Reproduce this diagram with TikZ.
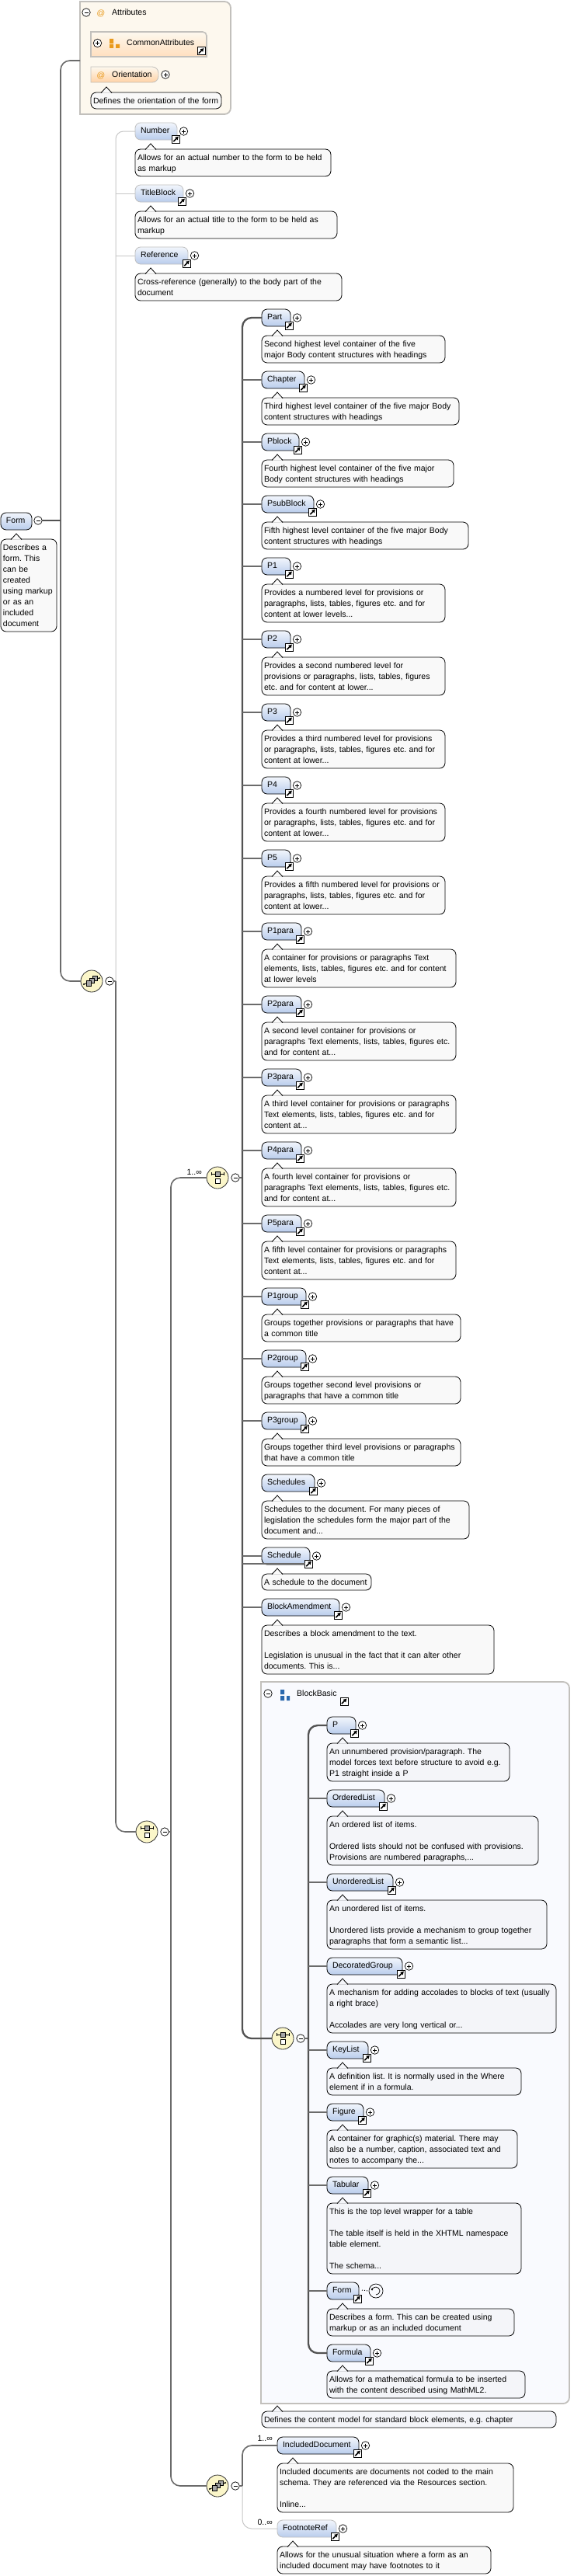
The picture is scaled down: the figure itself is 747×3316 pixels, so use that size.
\documentclass[tikz,border=0pt]{standalone}
\usepackage{fontspec}
\setmainfont{Liberation Sans}
\usetikzlibrary{arrows.meta,calc}

\definecolor{elemtop}{HTML}{F2F6FC}
\definecolor{elembot}{HTML}{B9CCEC}
\definecolor{cmtplain}{HTML}{F9F9F9}
\definecolor{cmtblue}{HTML}{F4F5F9}
\definecolor{attrfill}{HTML}{FDF8EE}
\definecolor{blockfill}{HTML}{F9FAFE}
\definecolor{boxline}{HTML}{C2C0BC}
\definecolor{iconorange}{HTML}{E99A1C}
\definecolor{iconblue}{HTML}{2A68AE}
\definecolor{seqfill}{HTML}{FBF6C9}
\colorlet{cmtfill}{cmtplain}

\tikzset{
  x=1pt,y=-1pt,
  txt/.style={font=\fontsize{10.5}{14}\selectfont\frenchspacing},
  elembox/.style={txt,anchor=north west,outer sep=0pt,inner xsep=7pt,inner ysep=0pt,
    rounded corners=7pt,draw=black,line width=.8pt,top color=elemtop,bottom color=elembot,
    minimum height=22pt,text height=8pt,text depth=3pt,align=left},
  opt/.style={draw=black!25},
  cmt/.style={txt,anchor=north west,outer sep=0pt,inner xsep=3pt,inner ysep=3.5pt,
    rounded corners=7pt,draw=black,line width=.8pt,fill=cmtfill,text height=11pt,align=left},
  shortcut/.style={draw=black,fill=white,line width=.8pt,minimum size=10pt,inner sep=0pt,outer sep=0pt,
    path picture={\draw[line width=1.5pt,-{Latex[length=4.5pt,width=5.5pt]}]
      ($(path picture bounding box.center)+(-3.2,3.2)$) -- ($(path picture bounding box.center)+(3.6,-3.6)$);}},
  plusbtn/.style={circle,draw=black,fill=white,line width=.7pt,minimum size=10.5pt,inner sep=0pt,outer sep=0pt,
    path picture={\draw[line width=.7pt] ($(path picture bounding box.center)+(-2.5,0)$) -- ++(5,0)
      ($(path picture bounding box.center)+(0,-2.5)$) -- ++(0,5);}},
  minusbtn/.style={circle,draw=black,fill=white,line width=.7pt,minimum size=10.5pt,inner sep=0pt,outer sep=0pt,
    path picture={\draw[line width=.8pt] ($(path picture bounding box.center)+(-2.5,0)$) -- ++(5,0);}},
  seq/.style={circle,draw=black!80,fill=seqfill,line width=.8pt,minimum size=28pt,inner sep=0pt,outer sep=0pt},
  conn/.style={draw=black!58,line width=1.6pt},
  busline/.style={draw=black!68,line width=2.3pt},
  optline/.style={draw=black!22,line width=1pt},
  mult/.style={txt,anchor=east,inner sep=0pt},
  plain/.style={txt,anchor=west,inner sep=0pt},
  pics/choicepic/.style={code={
    \draw[line width=.7pt] (-8,-5) -- (8,-5) (-8,-7) -- (-8,-3) (8,-7) -- (8,-3);
    \draw[fill=black!35,line width=.7pt] (-3,-8) rectangle (3,-2);
    \draw[fill=white,line width=.7pt] (-3,1) rectangle (3,7);}},
  pics/allpic/.style={code={
    \draw[line width=.8pt] (-10,4) -- (10,-4);
    \fill (-10,4) circle (1.2) (10,-4) circle (1.2);
    \draw[fill=black!35,line width=.7pt] (1,-7) rectangle (7,-1);
    \draw[fill=black!35,line width=.7pt] (-3,-4) rectangle (3,2);
    \draw[fill=black!35,line width=.7pt] (-7,-1) rectangle (-1,6);}}
}

% comment box under an element, with its small peak
\newcommand{\peak}[1]{%
  \path[draw=black,line width=.8pt,fill=cmtfill] ([shift={(13,.6)}]#1.north west) -- ([shift={(20,-7)}]#1.north west)
    -- ([shift={(27,.6)}]#1.north west);}
% [style]{name}{label}{left}{top}{right}{comment right}{comment lines}{comment}
\newcommand{\elembody}[9][]{%
  \pgfmathtruncatemacro\elemw{#6-#4-14}%
  \pgfmathtruncatemacro\cmtw{#7-#4-6}%
  \pgfmathtruncatemacro\cmtd{14*#8-11}%
  \node[elembox,#1,text width=\elemw pt] (#2) at (#4,#5) {\mbox{#3}};
  \node[shortcut] (#2s) at ($(#2.south east)+(-1.5,-1)$) {};
  \node[cmt,text width=\cmtw pt,text depth=\cmtd pt] (#2c) at ($(#2.south west)+(0,12)$) {#9};
  \peak{#2c}}
\newcommand{\elem}[9][]{%
  \elembody[#1]{#2}{#3}{#4}{#5}{#6}{#7}{#8}{#9}
  \node[plusbtn] (#2p) at ($(#2.east)+(8.5,0)$) {};}

\begin{document}
\begin{tikzpicture}
  \useasboundingbox (0,0) rectangle (747,3316);
  \fill[white] (0,0) rectangle (747,3316);

  % Attributes box
  \draw[draw=boxline,line width=1.8pt,fill=attrfill] (103,2) {[rounded corners=8pt] -- (297,2) -- (297,147)} -- (103,147) -- cycle;
  \node[minusbtn] (attrMinus) at (111,16) {};
  \node[txt,text=iconorange,inner sep=0pt] (attrAt) at (130,17) {@};
  \node[plain] (attrText) at (144,16) {Attributes};
  \shade[left color=attrfill,middle color=black!25,right color=attrfill] (107,29.3) rectangle (250,30.7);
  \draw[draw=boxline,line width=1.6pt,top color=attrfill,bottom color=orange!25] (117,41) {[rounded corners=5pt] -- (266,41)} -- (266,73) -- (117,73) -- cycle;
  \node[plusbtn] (commonPlus) at (125.5,55.5) {};
  \fill[iconorange] (141,50) rectangle (146,56) (141,57) rectangle (146,62) (149,57) rectangle (154,62);
  \node[plain] (commonText) at (163,55) {CommonAttributes};
  \node[shortcut] (commonLink) at (259,65.5) {};
  \draw[draw=boxline,line width=.8pt,top color=attrfill,bottom color=orange!35] (117,86) {[rounded corners=8pt] -- (204,86) -- (204,106)} -- (117,106) -- cycle;
  \node[txt,text=iconorange,inner sep=0pt] (orientAt) at (130,97) {@};
  \node[plain] (orientText) at (144,96) {Orientation};
  \node[plusbtn] (orientPlus) at (213,96) {};
  \node[cmt,text width=162pt,text depth=3pt] (orientc) at (117,119) {\mbox{Defines the orientation of the form}};
  \peak{orientc}
  \coordinate (attrBox) at (103,78);

  % BlockBasic box
  \draw[draw=boxline,line width=1.8pt,fill=blockfill] (336,2165) {[rounded corners=8pt] -- (733,2165) -- (733,3094)} -- (336,3094) -- cycle;
  \node[minusbtn] (blockMinus) at (345,2180) {};
  \fill[iconblue] (361,2175) rectangle (366,2181) (361,2183) rectangle (366,2189) (369,2183) rectangle (373,2189);
  \node[plain] (blockText) at (382,2180) {BlockBasic};
  \node[shortcut] (blockLink) at (443,2190) {};
  \shade[left color=blockfill,middle color=black!20,right color=blockfill] (340,2198.3) rectangle (632,2199.7);

  % Root
  \node[elembox,text width=26pt] (Form) at (1,660) {Form};
  \node[minusbtn] (FormMinus) at (49,670) {};
  \node[cmt,text width=66pt,text depth=101pt] (Formc) at (1,694) {Describes a\\form. This\\can be\\created\\using markup\\or as an\\included\\document};
  \peak{Formc}

  % Optional children
  \elem[opt]{Number}{Number}{174}{158}{228}{426}{2}{Allows for an actual number to the form to be held\\as markup}
  \elem[opt]{TitleBlock}{TitleBlock}{174}{238}{236}{434}{2}{Allows for an actual title to the form to be held as\\markup}
  \elem[opt]{Reference}{Reference}{174}{318}{242}{440}{2}{Cross-reference (generally) to the body part of the\\document}

  % Body level
  \elem{Part}{Part}{337}{398}{374}{573}{2}{Second highest level container of the five\\major Body content structures with headings}
  \elem{Chapter}{Chapter}{337}{478}{392}{591}{2}{Third highest level container of the five major Body\\content structures with headings}
  \elem{Pblock}{Pblock}{337}{558}{385}{584}{2}{Fourth highest level container of the five major\\Body content structures with headings}
  \elem{PsubBlock}{PsubBlock}{337}{638}{404}{603}{2}{Fifth highest level container of the five major Body\\content structures with headings}
  \elem{Pone}{P1}{337}{718}{374}{573}{3}{Provides a numbered level for provisions or\\paragraphs, lists, tables, figures etc. and for\\content at lower levels...}
  \elem{Ptwo}{P2}{337}{812}{374}{573}{3}{Provides a second numbered level for\\provisions or paragraphs, lists, tables, figures\\etc. and for content at lower...}
  \elem{Pthree}{P3}{337}{906}{374}{573}{3}{Provides a third numbered level for provisions\\or paragraphs, lists, tables, figures etc. and for\\content at lower...}
  \elem{Pfour}{P4}{337}{1000}{374}{573}{3}{Provides a fourth numbered level for provisions\\or paragraphs, lists, tables, figures etc. and for\\content at lower...}
  \elem{Pfive}{P5}{337}{1094}{374}{573}{3}{Provides a fifth numbered level for provisions or\\paragraphs, lists, tables, figures etc. and for\\content at lower...}
  \elem{Ponepara}{P1para}{337}{1188}{388}{587}{3}{A container for provisions or paragraphs Text\\elements, lists, tables, figures etc. and for content\\at lower levels}
  \elem{Ptwopara}{P2para}{337}{1282}{388}{587}{3}{A second level container for provisions or\\paragraphs Text elements, lists, tables, figures etc.\\and for content at...}
  \elem{Pthreepara}{P3para}{337}{1376}{388}{587}{3}{A third level container for provisions or paragraphs\\Text elements, lists, tables, figures etc. and for\\content at...}
  \elem{Pfourpara}{P4para}{337}{1470}{388}{587}{3}{A fourth level container for provisions or\\paragraphs Text elements, lists, tables, figures etc.\\and for content at...}
  \elem{Pfivepara}{P5para}{337}{1564}{388}{587}{3}{A fifth level container for provisions or paragraphs\\Text elements, lists, tables, figures etc. and for\\content at...}
  \elem{Ponegroup}{P1group}{337}{1658}{394}{593}{2}{Groups together provisions or paragraphs that have\\a common title}
  \elem{Ptwogroup}{P2group}{337}{1738}{394}{593}{2}{Groups together second level provisions or\\paragraphs that have a common title}
  \elem{Pthreegroup}{P3group}{337}{1818}{394}{593}{2}{Groups together third level provisions or paragraphs\\that have a common title}
  \elem{Schedules}{Schedules}{337}{1898}{405}{604}{3}{Schedules to the document. For many pieces of\\legislation the schedules form the major part of the\\document and...}
  \elem{Schedule}{Schedule}{337}{1992}{399}{478}{1}{A schedule to the document}
  \elem{BlockAmendment}{BlockAmendment}{337}{2058}{437}{636}{4}{Describes a block amendment to the text.\\[14pt]Legislation is unusual in the fact that it can alter other\\documents. This is...}

  % Inside BlockBasic
  \colorlet{cmtfill}{cmtblue}
  \elem{Pplain}{P}{421}{2210}{458}{656}{3}{An unnumbered provision/paragraph. The\\model forces text before structure to avoid e.g.\\P1 straight inside a P}
  \elem{OrderedList}{OrderedList}{421}{2304}{495}{693}{4}{An ordered list of items.\\[14pt]Ordered lists should not be confused with provisions.\\Provisions are numbered paragraphs,...}
  \elem{UnorderedList}{UnorderedList}{421}{2412}{506}{704}{4}{An unordered list of items.\\[14pt]Unordered lists provide a mechanism to group together\\paragraphs that form a semantic list...}
  \elem{DecoratedGroup}{DecoratedGroup}{421}{2520}{518}{716}{4}{A mechanism for adding accolades to blocks of text (usually\\a right brace)\\[14pt]Accolades are very long vertical or...}
  \elem{KeyList}{KeyList}{421}{2628}{474}{671}{2}{A definition list. It is normally used in the Where\\element if in a formula.}
  \elem{Figure}{Figure}{421}{2708}{468}{666}{3}{A container for graphic(s) material. There may\\also be a number, caption, associated text and\\notes to accompany the...}
  \elem{Tabular}{Tabular}{421}{2802}{474}{671}{6}{This is the top level wrapper for a table\\[14pt]The table itself is held in the XHTML namespace\\table element.\\[14pt]The schema...}
  \elembody{FormRef}{Form}{421}{2938}{462}{662}{2}{Describes a form. This can be created using\\markup or as an included document}
  \node[circle,draw=black,line width=.7pt,minimum size=18pt,inner sep=0pt] (FormLoop) at (484,2949) {};
  \draw[line width=.7pt,-{Latex[length=3pt,width=3pt]}] (FormLoop.center) ++(0,5) arc (90:-180:5);
  \draw[dotted,line width=1pt] ($(FormRef.east)+(4,-1)$) -- (FormLoop.west);
  \elem{Formula}{Formula}{421}{3018}{477}{676}{2}{Allows for a mathematical formula to be inserted\\with the content described using MathML2.}
  \node[cmt,text width=373pt,text depth=3pt] (blockc) at (337,3104) {Defines the content model for standard block elements, e.g. chapter};
  \peak{blockc}
  \colorlet{cmtfill}{cmtplain}

  % Last choice
  \elem{IncludedDocument}{IncludedDocument}{357}{3137}{462}{661}{4}{Included documents are documents not coded to the main\\schema. They are referenced via the Resources section.\\[14pt]Inline...}
  \elem[opt]{FootnoteRef}{FootnoteRef}{357}{3244}{433}{632}{2}{Allows for the unusual situation where a form as an\\included document may have footnotes to it}

  % Compositors
  \node[seq] (allA) at (118,1263) {};
  \pic at (allA) {allpic};
  \node[minusbtn] (allAMinus) at (141,1263) {};
  \node[seq] (choiceB) at (189,2358) {};
  \pic at (choiceB) {choicepic};
  \node[minusbtn] (choiceBMinus) at (212,2358) {};
  \node[seq] (choiceA) at (280,1516) {};
  \pic at (choiceA) {choicepic};
  \node[minusbtn] (choiceAMinus) at (303,1516) {};
  \node[seq] (choiceC) at (364,2624) {};
  \pic at (choiceC) {choicepic};
  \node[minusbtn] (choiceCMinus) at (387,2624) {};
  \node[seq] (allB) at (280,3200) {};
  \pic at (allB) {allpic};
  \node[minusbtn] (allBMinus) at (303,3200) {};

  % Buses
  \coordinate (busMain) at (78,670);
  \coordinate (busOpt) at (149,1263);
  \coordinate (busMid) at (220,2358);
  \coordinate (busBody) at (312,1516);
  \coordinate (busBlock) at (397,2624);
  \coordinate (busLast) at (312,3200);

  \draw[conn,rounded corners=12pt] (attrBox) -| (busMain) |- (allA.west);
  \draw[busline] (FormMinus.east) -- (busMain);
  \draw[conn] (allAMinus.east) -- (busOpt);
  \draw[optline,rounded corners=10pt] (Number.west) -| (busOpt);
  \foreach \n in {TitleBlock,Reference} \draw[optline] (\n.west) -- (\n.west -| busOpt);
  \draw[conn,rounded corners=12pt] (busOpt) |- (choiceB.west);
  \draw[conn] (choiceBMinus.east) -- (busMid);
  \draw[conn,rounded corners=12pt] (choiceA.west) -| (busMid) |- (allB.west);
  \draw[conn] (choiceAMinus.east) -- (busBody);
  \draw[busline,rounded corners=12pt] (Part.west) -| (busBody) |- (choiceC.west);
  \foreach \n in {Chapter,Pblock,PsubBlock,Pone,Ptwo,Pthree,Pfour,Pfive,Ponepara,Ptwopara,Pthreepara,Pfourpara,Pfivepara,Ponegroup,Ptwogroup,Pthreegroup,Schedules,Schedule,BlockAmendment}
    \draw[conn] (\n.west) -- (\n.west -| busBody);
  \draw[conn] (choiceCMinus.east) -- (busBlock);
  \draw[busline,rounded corners=12pt] (Pplain.west) -| (busBlock) |- (Formula.west);
  \foreach \n in {OrderedList,UnorderedList,DecoratedGroup,KeyList,Figure,Tabular,FormRef}
    \draw[conn] (\n.west) -- (\n.west -| busBlock);
  \draw[conn] (allBMinus.east) -- (busLast);
  \draw[conn,rounded corners=12pt] (busLast) |- (IncludedDocument.west);
  \draw[optline,rounded corners=12pt] (busLast) |- (FootnoteRef.west);

  % Occurrence labels
  \node[mult] (multA) at (260,1509) {1..∞};
  \node[mult] (multB) at (351,3139) {1..∞};
  \node[mult] (multC) at (351,3247) {0..∞};
\end{tikzpicture}
\end{document}
